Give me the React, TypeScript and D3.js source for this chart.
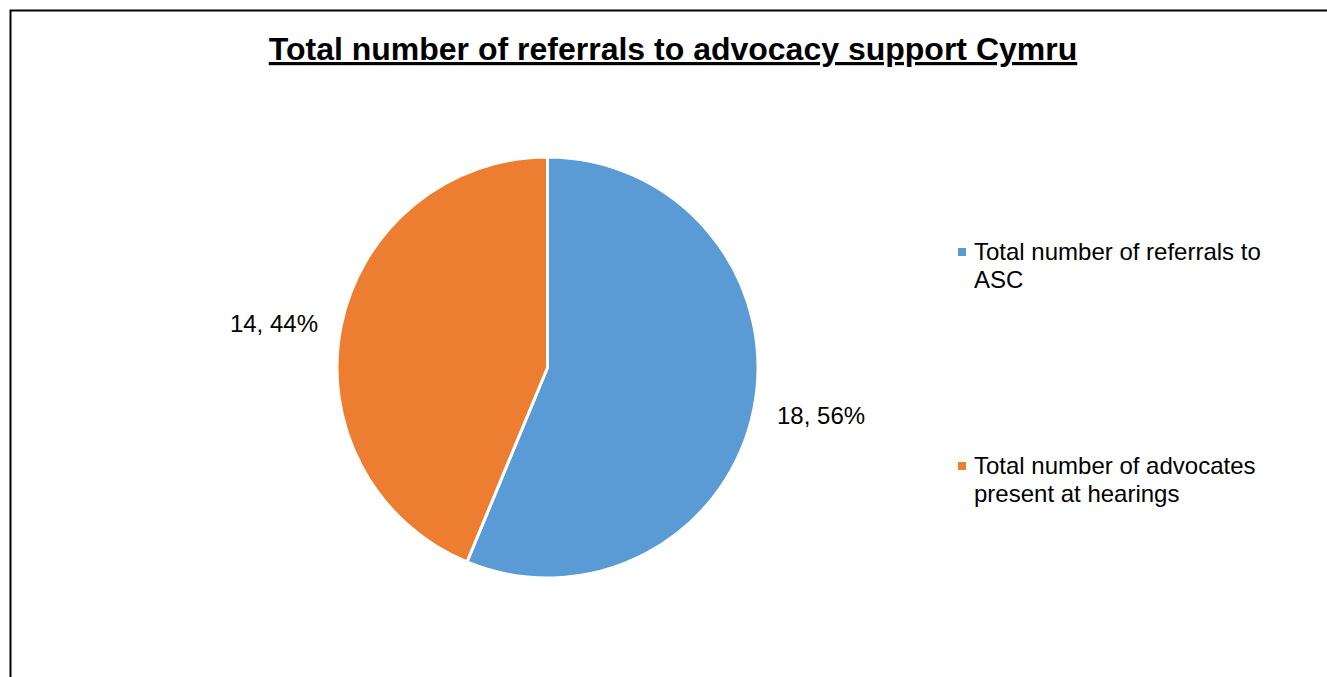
import React from "react";
import * as d3 from "d3";

const categories = ["Total number of referrals to ASC", "Total number of advocates present at hearings"];
const values = [18, 14];
const legendLines = [["Total number of referrals to", "ASC"], ["Total number of advocates", "present at hearings"]];
const colors = ["#5B9BD5", "#ED7D31"];
const title = "Total number of referrals to advocacy support Cymru";

export default function App() {
  const W = 1327, H = 677;
  const cx = 547.5, cy = 367.5, r = 210.5;
  const total = d3.sum(values);
  const pie = d3.pie<number>().sort(null).value((d) => d)(values);
  const arc = d3.arc<d3.PieArcDatum<number>>().innerRadius(0).outerRadius(r);
  const font = "Liberation Sans, Arial, sans-serif";
  const labelPos = [
    { x: 777, y: 424, anchor: "start" },
    { x: 318, y: 332, anchor: "end" },
  ];
  const legendY = [260, 474];
  return (
    <div style={{ position: "fixed", left: 0, top: 0 }}>
      <svg width={W} height={H} style={{ display: "block", background: "#fff" }}>
        <rect x={10.5} y={10.5} width={W + 20} height={H + 20} fill="#fff" stroke="#000" strokeWidth={2} />
        <text x={673} y={60} textAnchor="middle" fontFamily={font} fontWeight="bold" fontSize={32} textDecoration="underline" fill="#000">
          {title}
        </text>
        <g transform={`translate(${cx},${cy})`}>
          {pie.map((p, i) => (
            <path key={categories[i]} d={arc(p) || ""} fill={colors[i]} stroke="#fff" strokeWidth={3} strokeLinejoin="round" />
          ))}
        </g>
        {pie.map((p, i) => (
          <text key={"l" + i} x={labelPos[i].x} y={labelPos[i].y} textAnchor={labelPos[i].anchor as any} fontFamily={font} fontSize={24} fill="#000">
            {`${values[i]}, ${Math.round((values[i] / total) * 100)}%`}
          </text>
        ))}
        {categories.map((c, i) => (
          <g key={c}>
            <rect x={958} y={legendY[i] - 12} width={8} height={8} fill={colors[i]} />
            {legendLines[i].map((ln, j) => (
              <text key={j} x={974} y={legendY[i] + j * 28} fontFamily={font} fontSize={24} fill="#000">
                {ln}
              </text>
            ))}
          </g>
        ))}
      </svg>
    </div>
  );
}
